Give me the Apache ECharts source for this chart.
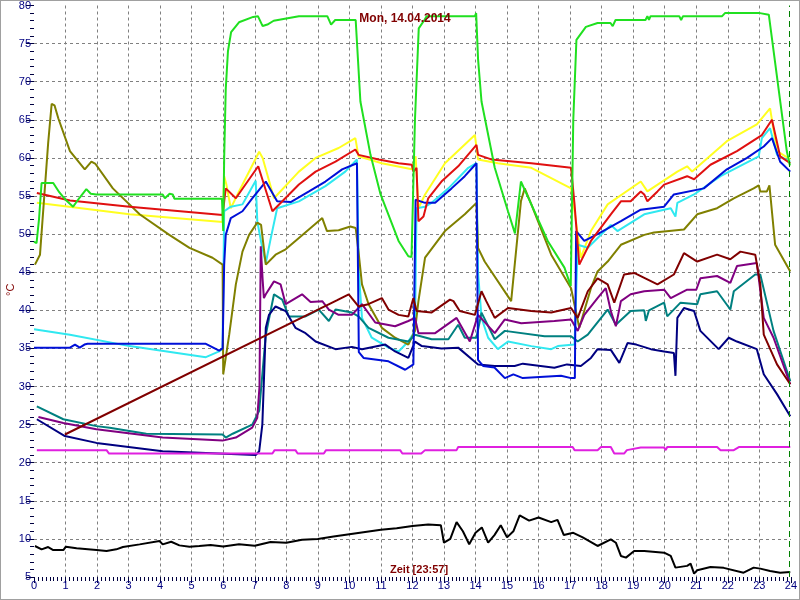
<!DOCTYPE html>
<html>
<head>
<meta charset="utf-8">
<script src="https://cdn.jsdelivr.net/npm/echarts@6/dist/echarts.min.js"></script>
<style>
html,body{margin:0;padding:0;background:#fff;}
#c{position:absolute;left:0;top:0;width:800px;height:600px;}
#frame{position:absolute;left:0;top:0;width:800px;height:600px;box-sizing:border-box;border:1px solid #a0a0a0;pointer-events:none;}
</style>
</head>
<body>
<div id="c"></div>
<div id="frame"></div>
<script>
// ---- data (hour of day, °C) ----
const titleText = 'Mon, 14.04.2014';
const xName = 'Zeit [23:57]';
const currentTime = 23.95;
const xTicks = [0, 24, 1];
const yTicks = [5, 80, 5];

const green = [[0.0,49.0],[0.08,48.8],[0.16,52],[0.24,56.7],[0.61,56.7],[0.8,55.5],[1.0,54.5],[1.24,53.6],[1.45,54.8],[1.66,55.9],[1.8,55.3],[1.98,55.2],[4.08,55.2],[4.15,54.7],[4.3,55.3],[4.4,55.2],[4.45,54.65],[5.96,54.65],[6.0,50.4],[6.03,60],[6.08,69],[6.15,74],[6.25,76.5],[6.5,77.8],[6.95,78.5],[7.1,78.6],[7.25,77.3],[7.4,77.5],[7.6,78.0],[8.0,78.3],[8.4,78.6],[9.3,78.6],[9.42,77.5],[9.55,78.1],[10.2,78.1],[10.35,67.4],[10.67,60.4],[10.99,55.2],[11.56,49.1],[11.87,47.1],[11.97,47.0],[12.08,65],[12.2,77.0],[12.38,78.1],[12.45,78.6],[13.98,78.6],[14.02,79.0],[14.08,73],[14.19,67.4],[14.61,58.7],[15.03,53.0],[15.25,50.1],[15.44,56.9],[15.77,53.9],[16.29,49.1],[16.82,45.6],[17.02,43.2],[17.1,65],[17.2,75.5],[17.5,77.2],[17.87,77.7],[18.28,77.7],[18.35,77.3],[18.44,78.1],[19.39,78.1],[19.45,78.6],[19.5,78.1],[19.55,78.6],[20.46,78.6],[20.52,78.1],[20.58,78.6],[21.82,78.6],[21.91,79.0],[23.02,79.0],[23.05,78.8],[23.30,78.8],[23.87,60.9],[23.97,59.0]];

const red = [[0.09,55.4],[1.14,54.4],[3.03,53.6],[5.98,52.5],[6.03,52.6],[6.08,56.0],[6.40,54.7],[7.11,58.9],[7.56,53.0],[8.40,56.5],[8.93,58.2],[9.56,59.5],[10.19,61.1],[10.29,60.4],[10.93,59.8],[11.56,59.3],[11.98,59.1],[12.03,58.2],[12.13,58.7],[12.19,51.7],[12.35,52.3],[12.50,54.7],[12.92,56.9],[13.45,58.9],[14.03,61.7],[14.08,60.4],[14.50,59.8],[15.77,59.3],[17.03,58.7],[17.14,53.9],[17.29,46.0],[17.66,49.1],[18.29,52.6],[18.61,54.3],[18.92,54.3],[19.24,55.6],[19.35,55.2],[19.45,54.3],[19.50,54.3],[19.77,55.6],[19.98,56.5],[20.71,57.6],[20.93,57.2],[21.45,59.1],[22.29,60.9],[23.08,63.0],[23.40,65.0],[23.66,60.2],[23.98,59.3]];

const yellow = [[0.09,54.1],[3.03,52.6],[5.98,51.6],[6.03,57.6],[6.1,56.5],[6.24,53.4],[6.50,55.6],[7.14,60.8],[7.25,60.0],[7.61,54.7],[8.40,58.2],[8.93,60.0],[9.66,61.3],[10.19,62.6],[10.29,60.2],[11.03,59.3],[11.98,58.5],[12.10,60.2],[12.19,53.4],[12.40,55.2],[13.03,59.3],[13.98,63.0],[14.08,59.8],[14.71,59.3],[15.77,58.7],[17.03,56.0],[17.14,53.0],[17.34,46.9],[17.66,50.4],[18.19,53.9],[19.24,56.9],[19.45,55.6],[20.40,58.2],[20.71,58.9],[20.87,58.2],[21.97,62.2],[22.92,64.4],[23.34,66.5],[23.56,60.9],[23.98,59.8]];

const blue = [[0.0,35.1],[1.14,35.1],[1.3,35.5],[1.45,35.1],[1.6,35.5],[1.7,35.6],[5.45,35.6],[5.87,34.7],[5.98,35.0],[6.03,46],[6.08,49.9],[6.24,52.1],[6.61,53.0],[6.92,54.7],[7.35,56.9],[7.71,54.3],[8.14,54.2],[8.72,55.6],[9.24,56.9],[9.77,58.5],[10.24,59.3],[10.30,34.5],[10.45,33.75],[11.24,33.3],[11.77,32.2],[12.03,32.9],[12.10,54.5],[12.40,54.1],[12.72,54.1],[13.24,56.0],[13.66,57.6],[14.03,59.3],[14.08,33.5],[14.24,32.7],[14.6,32.5],[14.93,31.1],[15.2,31.6],[15.5,31.1],[16.71,31.4],[17.03,31.1],[17.15,31.1],[17.19,50.4],[17.45,49.1],[17.87,50.0],[18.61,51.7],[19.24,53.2],[19.98,53.6],[20.29,55.2],[21.24,56.0],[21.97,58.5],[22.61,60.0],[23.14,61.5],[23.40,62.6],[23.66,59.5],[23.98,58.2]];

const cyan = [[0.0,37.5],[1.14,36.8],[3.03,35.3],[5.45,33.85],[5.87,34.6],[5.98,35.0],[6.03,53.0],[6.24,53.6],[6.61,53.9],[7.03,57.0],[7.08,51.7],[7.2,49],[7.35,46.2],[7.51,49.5],[7.71,53.4],[8.40,54.3],[9.24,56.3],[9.87,58.2],[10.24,59.8],[10.30,45],[10.40,39.0],[10.71,36.4],[11.24,35.1],[11.56,34.6],[11.87,35.9],[12.08,37.3],[12.13,53.4],[12.40,53.6],[12.61,54.1],[13.14,56.0],[13.77,58.7],[14.03,59.3],[14.08,45],[14.19,39.0],[14.40,36.4],[14.71,34.9],[15.03,35.9],[15.77,35.3],[16.40,34.9],[16.61,35.3],[17.14,35.5],[17.24,48.6],[17.56,48.2],[18.29,51.2],[18.50,50.4],[19.35,52.6],[20.19,53.4],[20.34,52.3],[20.40,54.1],[20.93,55.2],[21.77,57.6],[22.98,60.2],[23.08,62.6],[23.34,63.9],[23.56,60.4],[23.98,59.5]];

const olive = [[0.03,46.0],[0.19,47.3],[0.45,62],[0.56,67.1],[0.65,66.9],[0.77,65.2],[1.14,60.9],[1.61,58.5],[1.82,59.5],[1.95,59.2],[2.50,56.0],[3.35,52.6],[4.29,49.9],[4.93,48.2],[5.66,46.9],[5.98,46.0],[6.0,31.6],[6.19,36.8],[6.40,43.4],[6.61,47.7],[6.82,49.9],[7.08,51.5],[7.2,51.2],[7.35,46.0],[7.66,47.3],[7.98,48.0],[8.40,49.5],[9.14,52.1],[9.29,50.4],[9.66,50.5],[10.03,51.0],[10.2,50.8],[10.29,47.7],[10.40,43.4],[10.61,40.8],[11.03,37.7],[11.45,36.4],[11.87,35.5],[12.08,37.3],[12.19,41.2],[12.40,46.9],[13.03,50.4],[13.66,52.6],[14.03,54.1],[14.08,48.2],[14.29,46.4],[15.13,41.2],[15.44,54.3],[15.56,56.0],[15.77,53.9],[16.40,47.3],[17.03,42.9],[17.29,37.7],[17.66,42.9],[17.87,45.1],[18.19,46.4],[18.61,48.6],[19.35,49.9],[19.66,50.2],[20.61,50.6],[21.03,52.6],[21.66,53.4],[22.19,54.7],[22.82,56.0],[22.98,56.4],[23.03,55.6],[23.24,55.6],[23.32,56.4],[23.50,48.6],[23.98,45.1]];

const maroon = [[0.98,23.7],[9.6,41.3],[9.98,42.1],[10.29,40.5],[10.6,40.8],[11.03,41.6],[11.24,40.1],[11.56,39.4],[11.87,39.2],[12.03,41.6],[12.13,39.9],[12.6,39.7],[13.19,41.4],[13.3,41.2],[13.50,39.9],[13.98,39.4],[14.19,42.5],[14.34,41.2],[14.61,39.0],[15.03,40.3],[15.77,39.9],[16.40,39.7],[17.03,40.3],[17.24,39.0],[17.56,42.5],[17.87,44.2],[18.19,43.4],[18.40,41.0],[18.71,44.7],[19.03,44.9],[19.77,43.4],[20.29,44.7],[20.61,47.5],[21.03,46.4],[21.66,47.3],[22.08,46.7],[22.4,47.7],[22.87,47.3],[23.03,43.4],[23.14,36.8],[23.56,32.9],[23.98,30.3]];

const purple = [[0.14,26.0],[0.93,25.2],[1.98,24.4],[4.08,23.3],[5.98,22.9],[6.40,23.3],[6.92,24.6],[7.08,25.9],[7.15,30],[7.19,48.4],[7.25,44],[7.29,41.6],[7.35,42.1],[7.61,43.8],[7.82,43.4],[7.98,40.8],[8.50,42.1],[8.77,41.1],[9.14,41.2],[9.35,40.1],[9.66,39.4],[10.08,39.4],[10.40,40.8],[10.82,38.4],[11.45,37.9],[11.87,38.6],[12.08,39.0],[12.19,37.0],[12.72,37.0],[13.40,39.0],[13.82,35.9],[14.08,39.4],[14.61,37.0],[14.93,38.8],[15.45,38.3],[16.50,38.6],[17.03,38.8],[17.24,37.3],[17.45,39.4],[17.87,41.6],[18.13,42.9],[18.29,39.9],[18.45,37.9],[18.61,41.2],[18.92,42.1],[19.35,42.5],[19.98,42.7],[20.19,41.6],[20.71,42.7],[21.0,42.7],[21.13,44.2],[21.66,44.5],[22.08,43.6],[22.29,45.8],[22.92,46.2],[23.14,39.0],[23.45,36.4],[23.98,30.3]];

const teal = [[0.09,27.4],[0.93,25.7],[1.98,24.8],[2.40,24.6],[3.56,23.8],[5.98,23.7],[6.08,23.3],[6.3,23.8],[6.92,25.0],[7.14,26.8],[7.35,36.8],[7.61,42.1],[7.87,41.4],[8.08,39.2],[8.61,39.2],[9.03,40.1],[9.35,38.6],[9.56,40.1],[10.08,39.7],[10.29,39.2],[10.61,37.7],[11.24,36.4],[11.87,35.9],[12.08,36.8],[12.61,36.2],[13.14,36.2],[13.45,38.1],[13.66,36.4],[14.03,36.4],[14.19,39.7],[14.61,36.2],[14.93,37.3],[16.19,36.6],[17.03,36.6],[17.24,35.9],[17.56,36.8],[18.19,40.1],[18.45,38.1],[18.92,39.9],[19.35,40.0],[19.40,38.6],[19.5,40.0],[19.98,41.0],[20.08,39.2],[20.50,41.0],[21.03,40.8],[21.13,42.1],[21.66,42.5],[22.08,40.1],[22.19,42.5],[22.87,44.7],[23.03,44.7],[23.45,37.3],[23.98,30.7]];

const navy = [[0.09,25.7],[0.98,23.5],[1.98,22.6],[4.08,21.5],[7.03,21.0],[7.14,21.5],[7.24,25.0],[7.35,37.7],[7.45,39.4],[7.66,40.5],[7.98,39.9],[8.29,37.7],[8.61,37.0],[8.93,35.9],[9.56,34.9],[10.08,35.2],[10.40,34.9],[11.14,35.5],[11.45,34.6],[11.87,33.75],[12.08,35.9],[12.3,35.3],[12.92,35.0],[13.45,35.1],[14.08,32.9],[14.61,32.7],[15.24,32.7],[15.5,33.0],[16.50,32.45],[16.9,32.9],[17.34,32.7],[17.66,33.75],[17.87,34.9],[18.29,34.8],[18.56,33.1],[18.82,35.7],[19.1,35.5],[19.56,34.9],[19.98,34.6],[20.29,34.4],[20.34,31.4],[20.40,39.0],[20.61,40.3],[20.93,39.9],[21.13,37.3],[21.71,34.9],[22.03,36.4],[22.29,35.9],[22.92,34.9],[23.14,31.6],[23.56,29.0],[23.98,26.1]];

const magenta = [[0.09,21.65],[2.30,21.65],[2.38,21.2],[7.56,21.2],[7.63,21.65],[8.29,21.65],[8.36,21.2],[9.19,21.2],[9.26,21.65],[11.61,21.65],[11.68,21.2],[12.28,21.2],[12.40,21.65],[13.40,21.65],[13.45,22.05],[17.08,22.05],[17.14,21.65],[17.87,21.65],[17.98,22.05],[18.29,22.05],[18.40,21.2],[18.71,21.2],[18.8,21.65],[19.24,22.0],[19.98,22.0],[20.03,21.65],[20.08,22.05],[21.66,22.05],[21.77,21.65],[22.19,21.65],[22.35,22.05],[23.98,22.05]];

const black = [[0.03,9.07],[0.24,8.63],[0.45,8.93],[0.61,8.54],[0.93,8.54],[1.01,8.98],[1.35,8.76],[1.98,8.54],[2.30,8.41],[2.61,8.63],[2.82,8.93],[3.35,9.28],[3.98,9.72],[4.08,9.28],[4.35,9.63],[4.61,9.15],[4.93,8.98],[5.24,9.07],[5.6,9.2],[6.0,9.0],[6.5,9.3],[7.0,9.1],[7.5,9.6],[8.0,9.5],[8.5,9.9],[9.0,10.0],[9.5,10.3],[10.0,10.6],[10.5,10.9],[11.0,11.2],[11.5,11.4],[12.0,11.7],[12.5,11.9],[12.9,11.8],[13.0,9.5],[13.2,10.0],[13.4,12.2],[13.6,11.0],[13.8,9.3],[14.0,10.8],[14.2,11.5],[14.4,9.5],[14.6,10.5],[14.8,11.8],[15.0,10.2],[15.2,11.0],[15.4,13.1],[15.7,12.4],[16.0,12.8],[16.4,12.2],[16.6,12.5],[16.8,10.5],[17.1,10.8],[17.4,10.2],[17.87,9.07],[18.29,9.94],[18.45,9.50],[18.61,7.76],[18.77,7.54],[19.03,8.41],[19.35,8.41],[19.98,8.19],[20.19,7.76],[20.34,6.23],[20.71,6.46],[20.82,6.75],[20.93,5.44],[21.03,5.88],[21.45,6.31],[21.87,6.2],[22.5,5.57],[22.82,6.23],[23.03,6.1],[23.34,5.79],[23.66,5.57],[23.98,5.66]];

// ---- chart ----
const chart = echarts.init(document.getElementById('c'), null, {renderer: 'canvas'});
function line(name, data, color, extra) {
  return Object.assign({
    name: name, type: 'line', data: data, showSymbol: false, symbol: 'none',
    lineStyle: {color: color, width: 2}, itemStyle: {color: color},
    animation: false, z: 2
  }, extra || {});
}
const option = {
  animation: false,
  backgroundColor: '#ffffff',
  title: {
    text: titleText, left: 400, top: 8, textAlign: 'center',
    textStyle: {color: '#800000', fontSize: 12, fontWeight: 'bold', fontFamily: 'Liberation Sans'}
  },
  grid: {left: 34, right: 7, top: 4, bottom: 23, containLabel: false},
  xAxis: {
    type: 'value', min: xTicks[0], max: xTicks[1], interval: xTicks[2],
    axisLine: {show: false},
    axisTick: {show: true, length: 6, lineStyle: {color: '#000040'}},
    minorTick: {show: true, splitNumber: 8, length: 4, lineStyle: {color: '#000040'}},
    axisLabel: {color: '#000080', fontSize: 11, fontFamily: 'Liberation Sans', margin: 3},
    splitLine: {show: true, showMinLine: false, showMaxLine: false, lineStyle: {color: '#808080', type: [3, 3], width: 1}}
  },
  yAxis: {
    type: 'value', min: yTicks[0], max: yTicks[1], interval: yTicks[2],
    axisLine: {show: false},
    axisTick: {show: true, length: 8, lineStyle: {color: '#000040'}},
    minorTick: {show: true, splitNumber: 5, length: 4, lineStyle: {color: '#000040'}},
    axisLabel: {color: '#000080', fontSize: 11, fontFamily: 'Liberation Sans', margin: 3},
    splitLine: {show: true, showMinLine: false, showMaxLine: false, lineStyle: {color: '#808080', type: [3, 3], width: 1}}
  },
  graphic: [
    {type: 'text', left: 390, top: 564, style: {text: xName, fill: '#800000', font: 'bold 11px "Liberation Sans"'}},
    {type: 'text', x: 5, y: 296, rotation: Math.PI / 2, style: {text: '°C', fill: '#800000', font: '11px "Liberation Sans"'}}
  ],
  series: [
    line('Gelb', yellow, '#ffff20'),
    line('Cyan', cyan, '#30e8f0'),
    line('Oliv', olive, '#808000'),
    line('Teal', teal, '#008080'),
    line('Lila', purple, '#800080'),
    line('Navy', navy, '#000080'),
    line('Magenta', magenta, '#e020e0'),
    line('Schwarz', black, '#000000'),
    line('Blau', blue, '#0010d8'),
    line('Rot', red, '#e01010'),
    line('Grün', green, '#20e020', {
      markLine: {
        silent: true, symbol: 'none', label: {show: false},
        lineStyle: {color: '#008000', type: [6, 4], width: 1},
        data: [{xAxis: currentTime}]
      }
    }),
    line('Braun', maroon, '#800000')
  ]
};
chart.setOption(option);
</script>
</body>
</html>
